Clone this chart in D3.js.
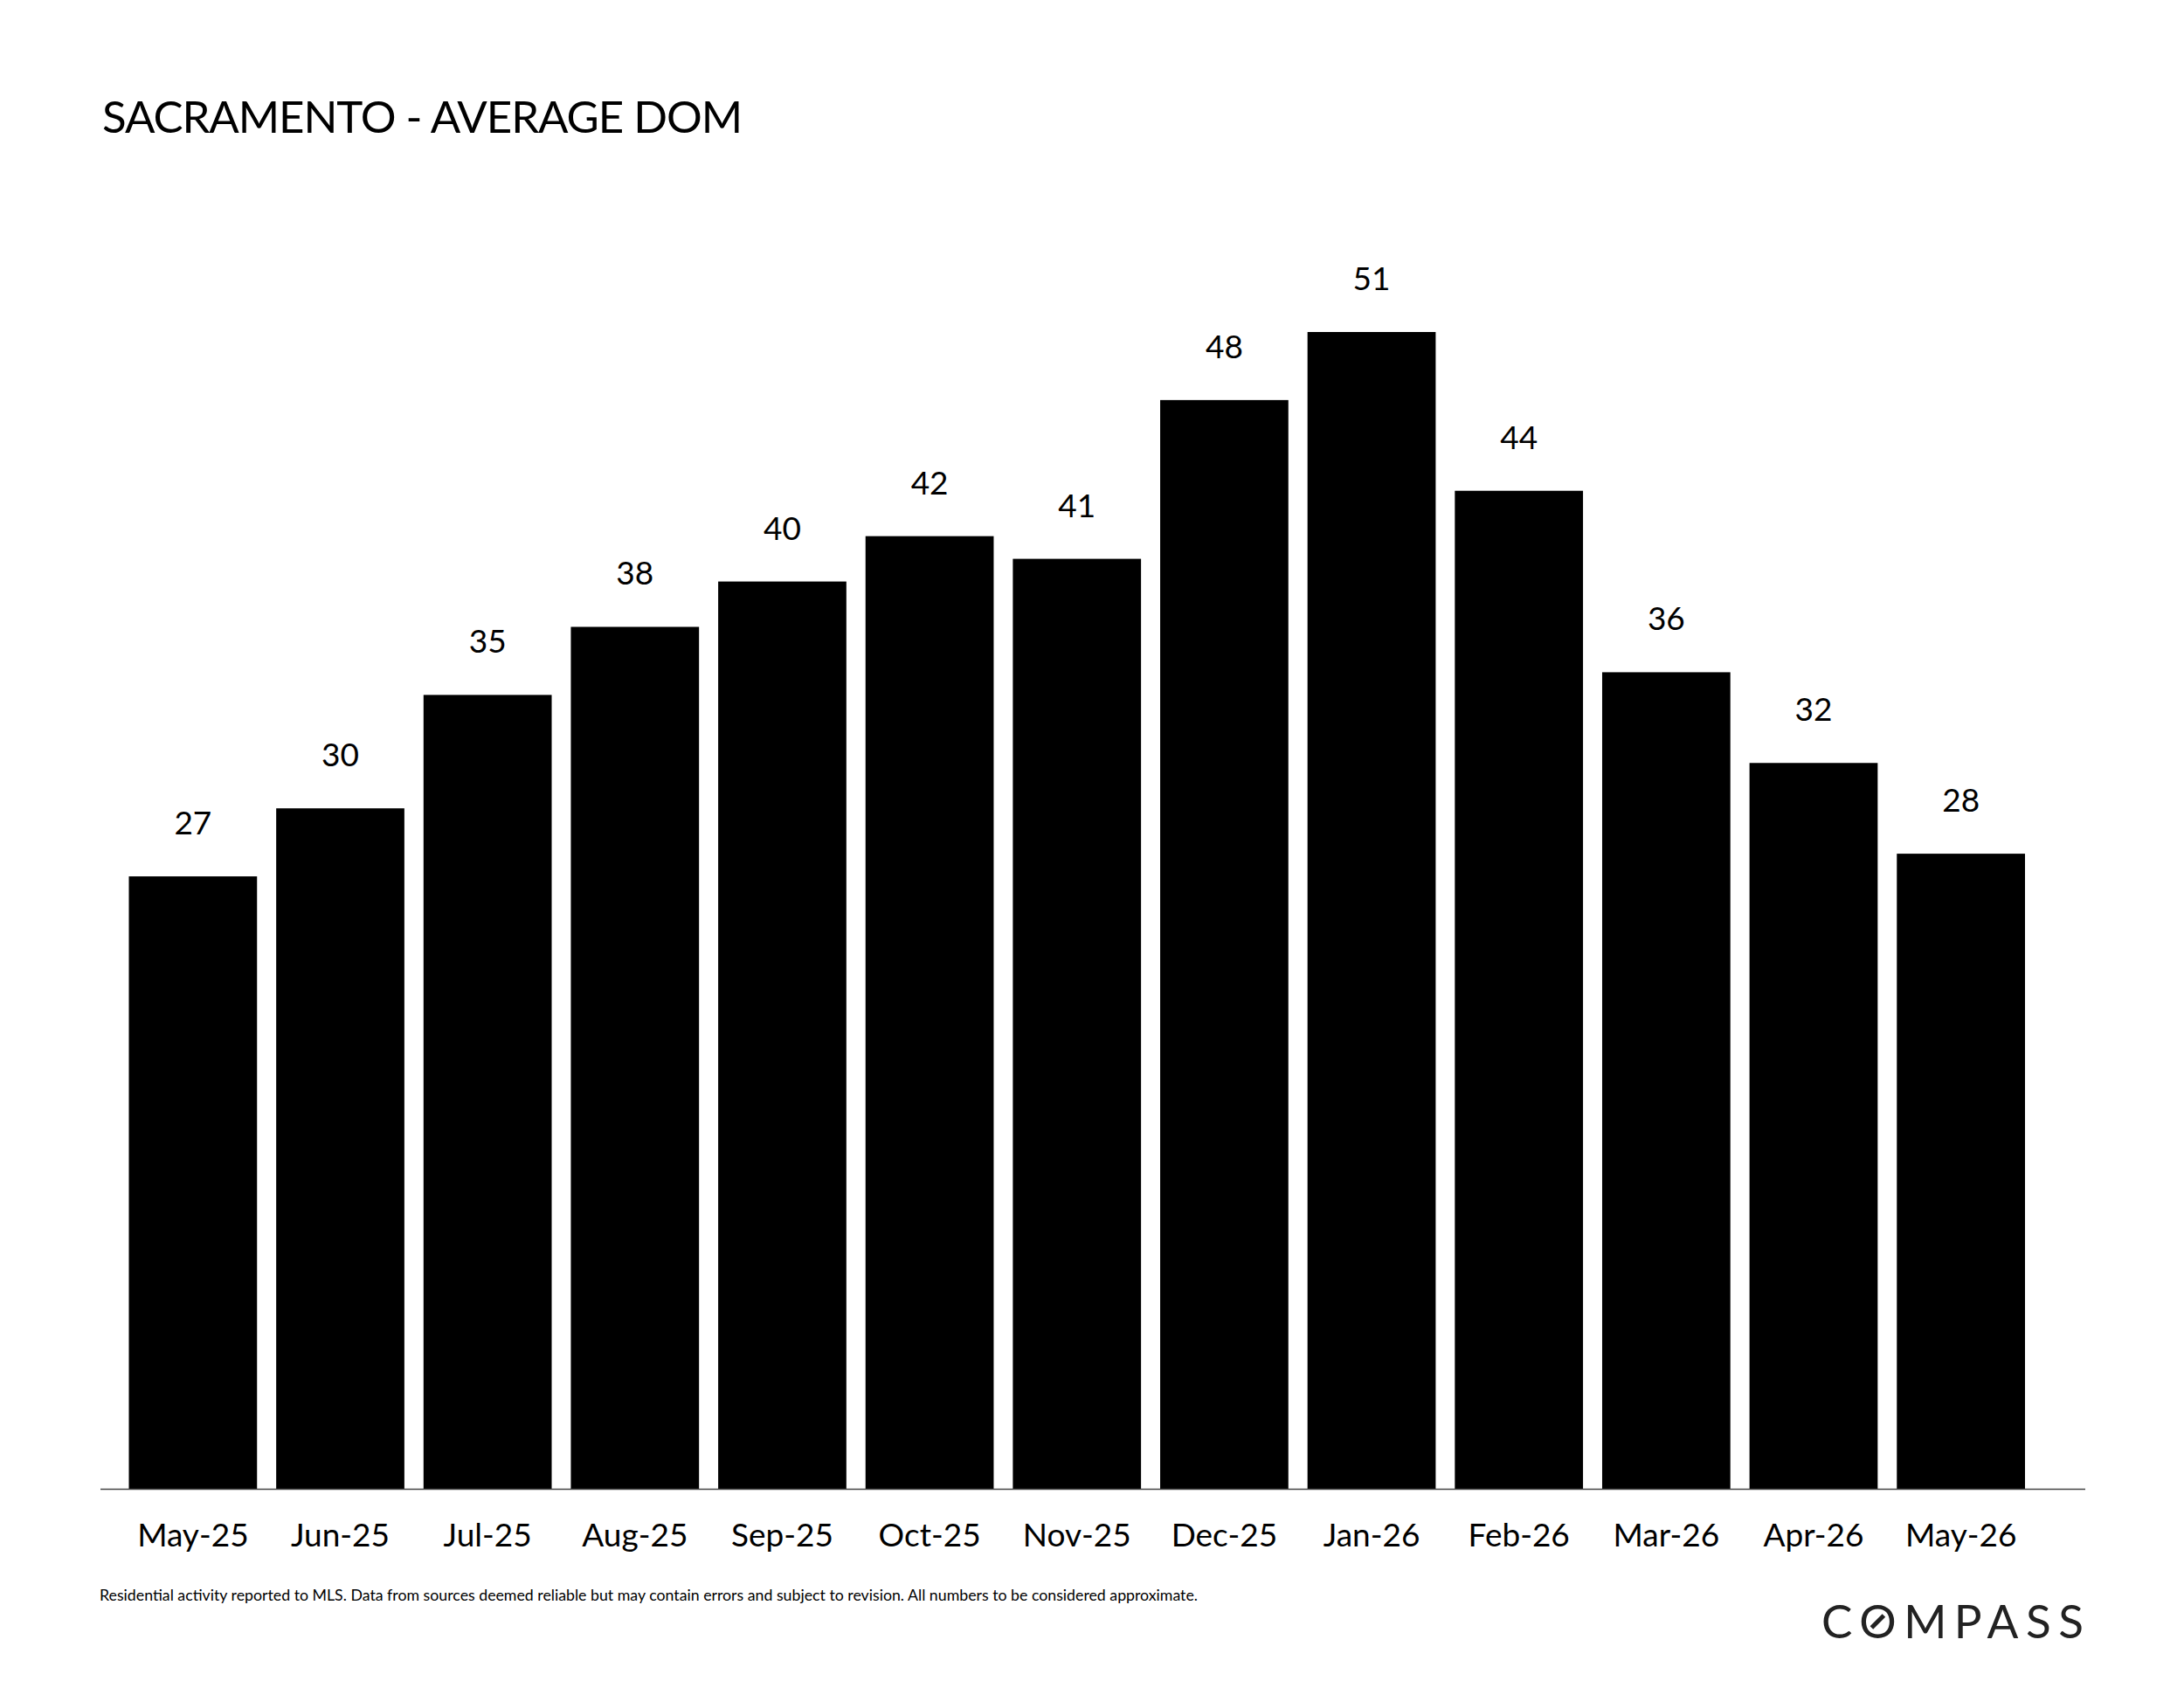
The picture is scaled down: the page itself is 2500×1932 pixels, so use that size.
<!DOCTYPE html>
<html>
<head>
<meta charset="utf-8">
<script src="https://cdn.jsdelivr.net/npm/d3@7"></script>
<style>
    body { margin: 0; background: #fff; }
    svg { display: block; }
</style>
</head>
<body>
<svg id="barchart"></svg>
<script>
var months = ["May-25", "Jun-25", "Jul-25", "Aug-25", "Sep-25", "Oct-25", "Nov-25",
    "Dec-25", "Jan-26", "Feb-26", "Mar-26", "Apr-26", "May-26"]
var avgDom = [27, 30, 35, 38, 40, 42, 41, 48, 51, 44, 36, 32, 28]

var titleText = "SACRAMENTO - AVERAGE DOM"
var footnote = "Residential activity reported to MLS. Data from sources deemed reliable but may contain errors and subject to revision. All numbers to be considered approximate."

var dimensions = {
    width: 2500,
    height: 1932,
    margin: {
        top: 380,
        bottom: 1704,
        left: 147.5,
        right: 2318
    }
}

var font = "Lato, 'Noto Sans', sans-serif"

var svg = d3.select("#barchart")
    .attr("width", dimensions.width)
    .attr("height", dimensions.height)
    .style("font-family", font)

// title
svg.append("text")
    .attr("x", 117)
    .attr("y", 152)
    .text(titleText)
    .attr("font-size", "51px")
    .attr("textLength", 733)
    .attr("lengthAdjust", "spacing")
    .attr("fill", "#000")

var xScale = d3.scaleBand()
    .domain(months)
    .range([dimensions.margin.left, dimensions.margin.right])
    .paddingInner(0.13)
    .paddingOuter(0)

var yScale = d3.scaleLinear()
    .domain([0, d3.max(avgDom)])
    .range([dimensions.margin.bottom, dimensions.margin.top])

var data = months.map(function (m, i) {
    return { month: m, value: avgDom[i] }
})

svg.append("g")
    .selectAll("rect")
    .data(data)
    .enter()
    .append("rect")
    .attr("x", d => xScale(d.month))
    .attr("y", d => yScale(d.value))
    .attr("width", xScale.bandwidth())
    .attr("height", d => yScale(0) - yScale(d.value))
    .attr("fill", "#000")

// value labels
svg.append("g")
    .selectAll("text")
    .data(data)
    .enter()
    .append("text")
    .attr("x", d => xScale(d.month) + xScale.bandwidth() / 2)
    .attr("y", d => yScale(d.value) - 48)
    .attr("text-anchor", "middle")
    .attr("font-size", "37px")
    .attr("fill", "#000")
    .text(d => d.value)

// x axis
var xAxis = d3.axisBottom(xScale)
    .tickSize(0)
    .tickSizeOuter(0)
    .tickPadding(40)

var axisG = svg.append("g")
    .attr("transform", "translate(0," + dimensions.margin.bottom + ")")
    .call(xAxis)

axisG.select(".domain").remove()
axisG.selectAll("text")
    .attr("font-size", "37px")
    .attr("font-family", font)
    .attr("fill", "#000")

axisG.append("line")
    .attr("x1", 115)
    .attr("x2", 2387)
    .attr("y1", 0.5)
    .attr("y2", 0.5)
    .attr("stroke", "#444")
    .attr("stroke-width", 1.5)

// footnote
svg.append("text")
    .attr("x", 114)
    .attr("y", 1832)
    .text(footnote)
    .attr("font-size", "18px")
    .attr("textLength", 1257)
    .attr("lengthAdjust", "spacingAndGlyphs")
    .attr("fill", "#000")

// compass logo
var logo = svg.append("text")
    .attr("x", 2085)
    .attr("y", 1875)
    .text("COMPASS")
    .attr("font-size", "53px")
    .attr("textLength", 300)
    .attr("lengthAdjust", "spacing")
    .attr("fill", "#222")

var oBox = logo.node().getExtentOfChar(1)
var cx = oBox.x + oBox.width / 2
var cy = 1875 - 19
svg.append("line")
    .attr("x1", cx - 7)
    .attr("y1", cy + 7)
    .attr("x2", cx + 7)
    .attr("y2", cy - 7)
    .attr("stroke", "#222")
    .attr("stroke-width", 5)
</script>
</body>
</html>
